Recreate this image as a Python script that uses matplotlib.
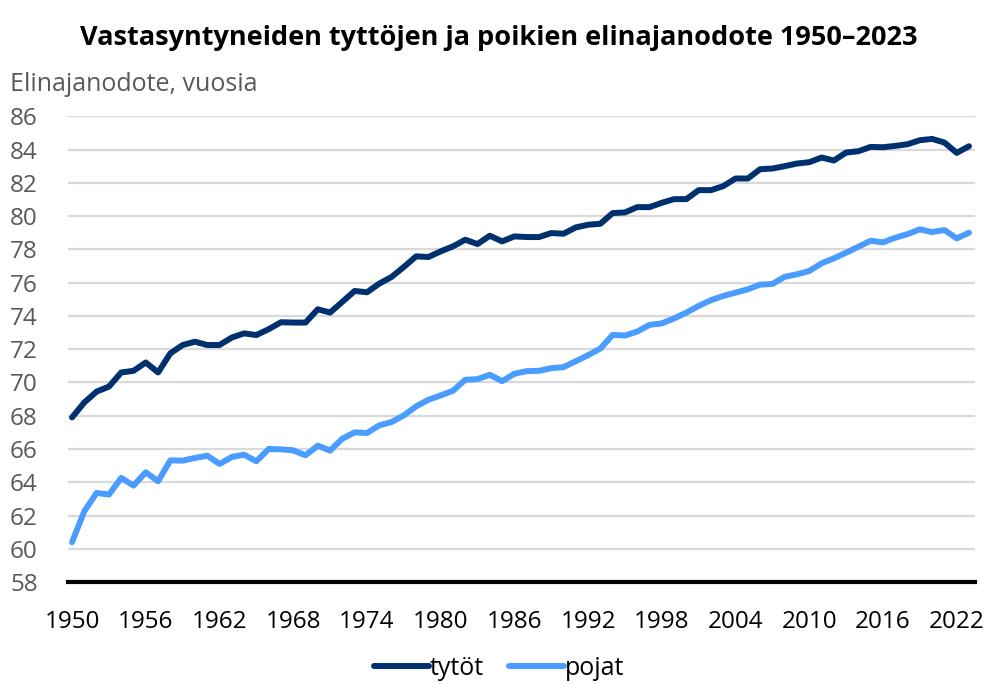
import matplotlib.pyplot as plt
import numpy as np

years = np.arange(1950, 2024)

tytot = [67.9, 68.8, 69.45, 69.75, 70.6, 70.7, 71.2, 70.6, 71.75, 72.25,
         72.45, 72.25, 72.25, 72.7, 72.95, 72.85, 73.2, 73.62, 73.6, 73.6,
         74.4, 74.2, 74.85, 75.5, 75.42, 75.94, 76.34, 76.94, 77.58, 77.54,
         77.88, 78.18, 78.58, 78.32, 78.82, 78.48, 78.78, 78.74, 78.74, 78.98,
         78.94, 79.32, 79.48, 79.54, 80.18, 80.22, 80.54, 80.54, 80.8, 81.02,
         81.02, 81.56, 81.56, 81.8, 82.26, 82.26, 82.82, 82.86, 83.0, 83.16,
         83.24, 83.52, 83.34, 83.82, 83.9, 84.16, 84.14, 84.22, 84.32, 84.56,
         84.64, 84.42, 83.8, 84.2]

pojat = [60.4, 62.26, 63.36, 63.26, 64.26, 63.8, 64.6, 64.06, 65.32, 65.3,
         65.46, 65.6, 65.1, 65.52, 65.66, 65.26, 66.0, 65.98, 65.92, 65.62,
         66.2, 65.9, 66.62, 67.0, 66.96, 67.42, 67.62, 68.02, 68.56, 68.96,
         69.22, 69.5, 70.16, 70.2, 70.46, 70.08, 70.52, 70.68, 70.7, 70.86,
         70.92, 71.28, 71.64, 72.04, 72.86, 72.82, 73.06, 73.46, 73.55, 73.85,
         74.2, 74.6, 74.95, 75.2, 75.4, 75.6, 75.88, 75.92, 76.35, 76.5,
         76.7, 77.16, 77.46, 77.8, 78.16, 78.52, 78.42, 78.7, 78.92, 79.2,
         79.04, 79.16, 78.66, 79.0]

xticks = np.arange(1950, 2024, 6)
yticks = np.arange(58, 87, 2)

plt.rcParams['font.family'] = ['Open Sans', 'DejaVu Sans']

fig = plt.figure(figsize=(9.91, 6.84), dpi=100)
ax = fig.add_axes([0.069, 0.149, 0.915, 0.681])

ax.plot(years, tytot, color='#00306e', lw=4.3, label='tytöt', solid_capstyle='round')
ax.plot(years, pojat, color='#4b9cff', lw=4.3, label='pojat', solid_capstyle='round')

ax.set_xlim(1949.7, 2023.5)
ax.set_ylim(58, 86)
ax.set_yticks(yticks)
ax.set_xticks(xticks)
ax.tick_params(axis='y', length=0, labelsize=17.5, labelcolor='#595959', pad=42)
ax.tick_params(axis='x', length=0, labelsize=17.5, labelcolor='black', pad=20)
for lab in ax.get_yticklabels():
    lab.set_horizontalalignment('left')
ax.grid(axis='y', color='#d9d9d9', lw=1.6)
ax.set_axisbelow(True)
for s in ['top', 'right', 'left']:
    ax.spines[s].set_visible(False)
ax.spines['bottom'].set_linewidth(3)
ax.spines['bottom'].set_color('black')

fig.text(0.503, 0.945, 'Vastasyntyneiden tyttöjen ja poikien elinajanodote 1950–2023',
         ha='center', va='center', fontsize=19.5, fontweight='bold')
fig.text(0.01, 0.877, 'Elinajanodote, vuosia', ha='left', va='center',
         fontsize=18, color='#595959')

ax.legend(loc='center', bbox_to_anchor=(0.475, -0.1845), ncol=2, frameon=False,
          fontsize=18, handlelength=2.2, handletextpad=0.05, columnspacing=1.0)

fig.savefig('out.png', dpi=100)
